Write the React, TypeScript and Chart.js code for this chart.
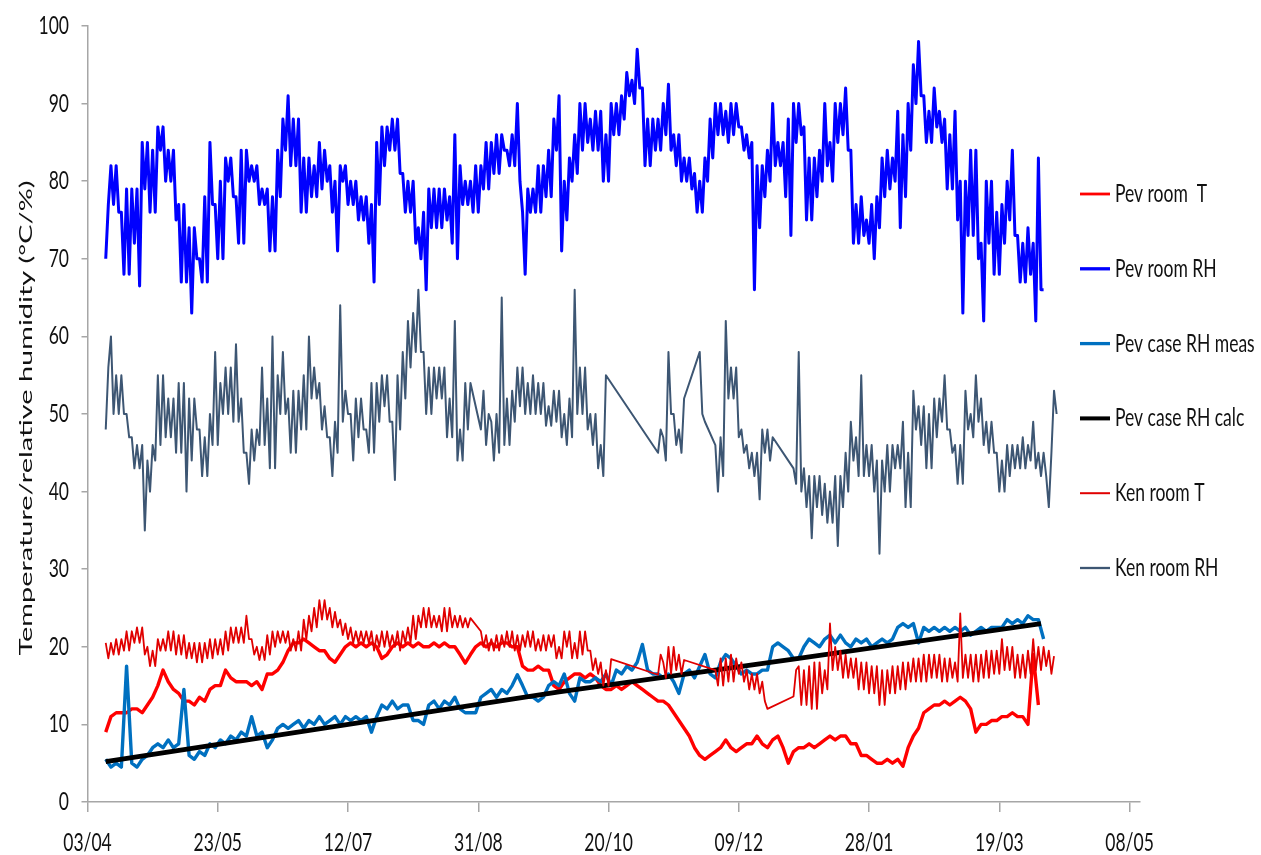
import { useEffect, useRef } from "react";
import { Chart, registerables } from "chart.js";

Chart.register(...registerables);

// ---------- DATA (x = day offset from 03/04) ----------
// 2-day sampling grid (smooth series)
const days = [
  7, 9, 11, 13, 15, 17, 19, 21, 23, 25,
  27, 29, 31, 33, 35, 37, 39, 41, 43, 45,
  47, 49, 51, 53, 55, 57, 59, 61, 63, 65,
  67, 69, 71, 73, 75, 77, 79, 81, 83, 85,
  87, 89, 91, 93, 95, 97, 99, 101, 103, 105,
  107, 109, 111, 113, 115, 117, 119, 121, 123, 125,
  127, 129, 131, 133, 135, 137, 139, 141, 143, 145,
  147, 149, 151, 153, 155, 157, 159, 161, 163, 165,
  167, 169, 171, 173, 175, 177, 179, 181, 183, 185,
  187, 189, 191, 193, 195, 197, 199, 201, 203, 205,
  207, 209, 211, 213, 215, 217, 219, 221, 223, 225,
  227, 229, 231, 233, 235, 237, 239, 241, 243, 245,
  247, 249, 251, 253, 255, 257, 259, 261, 263, 265,
  267, 269, 271, 273, 275, 277, 279, 281, 283, 285,
  287, 289, 291, 293, 295, 297, 299, 301, 303, 305,
  307, 309, 311, 313, 315, 317, 319, 321, 323, 325,
  327, 329, 331, 333, 335, 337, 339, 341, 343, 345,
  347, 349, 351, 353, 355, 357, 359, 361, 363, 365,
  367, 369, 371,
];

// daily sampling grid (noisy series)
const dailyDays = [
  7, 8, 9, 10, 11, 12, 13, 14, 15, 16, 17, 18, 19, 20, 21, 22, 23, 24, 25, 26,
  27, 28, 29, 30, 31, 32, 33, 34, 35, 36, 37, 38, 39, 40, 41, 42, 43, 44, 45, 46,
  47, 48, 49, 50, 51, 52, 53, 54, 55, 56, 57, 58, 59, 60, 61, 62, 63, 64, 65, 66,
  67, 68, 69, 70, 71, 72, 73, 74, 75, 76, 77, 78, 79, 80, 81, 82, 83, 84, 85, 86,
  87, 88, 89, 90, 91, 92, 93, 94, 95, 96, 97, 98, 99, 100, 101, 102, 103, 104, 105, 106,
  107, 108, 109, 110, 111, 112, 113, 114, 115, 116, 117, 118, 119, 120, 121, 122, 123, 124, 125, 126,
  127, 128, 129, 130, 131, 132, 133, 134, 135, 136, 137, 138, 139, 140, 141, 142, 143, 144, 145, 146,
  147, 148, 149, 150, 151, 152, 153, 154, 155, 156, 157, 158, 159, 160, 161, 162, 163, 164, 165, 166,
  167, 168, 169, 170, 171, 172, 173, 174, 175, 176, 177, 178, 179, 180, 181, 182, 183, 184, 185, 186,
  187, 188, 189, 190, 191, 192, 193, 194, 195, 196, 197, 198, 199, 200, 201, 202, 203, 204, 205, 206,
  207, 208, 209, 210, 211, 212, 213, 214, 215, 216, 217, 218, 219, 220, 221, 222, 223, 224, 225, 226,
  227, 228, 229, 230, 231, 232, 233, 234, 235, 236, 237, 238, 239, 240, 241, 242, 243, 244, 245, 246,
  247, 248, 249, 250, 251, 252, 253, 254, 255, 256, 257, 258, 259, 260, 261, 262, 263, 264, 265, 266,
  267, 268, 269, 270, 271, 272, 273, 274, 275, 276, 277, 278, 279, 280, 281, 282, 283, 284, 285, 286,
  287, 288, 289, 290, 291, 292, 293, 294, 295, 296, 297, 298, 299, 300, 301, 302, 303, 304, 305, 306,
  307, 308, 309, 310, 311, 312, 313, 314, 315, 316, 317, 318, 319, 320, 321, 322, 323, 324, 325, 326,
  327, 328, 329, 330, 331, 332, 333, 334, 335, 336, 337, 338, 339, 340, 341, 342, 343, 344, 345, 346,
  347, 348, 349, 350, 351, 352, 353, 354, 355, 356, 357, 358, 359, 360, 361, 362, 363, 364, 365, 366,
  367, 368, 369, 370, 371, 372,
];

const pevRoomT = [
  9, 11, 11.5, 11.5, 11.5, 12, 12, 11.5, 12.5, 13.5,
  15, 17, 15.5, 14.5, 14, 13, 13, 12.5, 13.5, 13,
  14.5, 15, 15, 17, 16, 15.5, 15.5, 15.5, 15, 15.5,
  14.5, 16.5, 16.5, 17, 18, 19.5, 20.5, 20.5, 21, 20.5,
  20, 19.5, 19.5, 18.5, 18, 19, 20, 20.5, 20, 20.5,
  20, 20.5, 20, 18.5, 19, 20, 20.5, 20, 20.5, 20,
  20.5, 20, 20, 20.5, 20, 20.5, 20, 20, 19, 17.9,
  19, 20, 20.5, 20, 20.5, 20, 20.5, 20.5, 20, 20,
  17.5, 17, 17, 17.5, 17, 17, 15, 14.5, 15.5, 16,
  16.5,
  16.5, 16, 16.5, 16, 15, 14.5, 14.5, 15, 14.5, 15,
  15.5, 15, 14.5, 14, 13.5, 13, 13, 12.5, 11.5, 10.5,
  9.5, 8.5, 7, 6, 5.5, 6, 6.5, 7, 8, 7,
  6.5, 7, 7.5, 7.5, 8.5, 7.5, 7, 8, 8.5, 7,
  5, 6.5, 7, 7, 7.5, 7, 7.5, 8, 8.5, 8,
  8.5, 8.5, 7.5, 7.5, 6, 6, 5.5, 5, 5, 5.5,
  5, 5.5, 4.6, 7, 8.5, 9.5, 11.5, 12, 12.5, 12.5,
  13, 12.5, 13, 13.5, 13, 12, 9, 10, 10, 10.5,
  10.5, 11, 11, 11.5, 11, 11, 10, 19, 12.5, null,
  null, null,
];

const pevRoomRH = [
  70, 77, 82, 77, 82, 76, 76, 68, 79, 68, 79, 72, 79, 66.5, 85, 79, 85, 76, 84, 76,
  87, 84, 87, 80, 84, 80, 84, 75, 77, 67, 77, 67, 74, 63, 74, 70, 70, 67, 78, 67,
  85, 77, 77, 70, 80, 70, 83, 80, 83, 78, 78, 72, 84, 72, 84, 80, 82, 80, 82, 77,
  79, 77, 79, 71, 78, 71, 84, 78, 88, 84, 91, 82, 88, 82, 88, 76, 83, 76, 83, 78,
  82, 78, 85, 79, 84, 80, 82, 76, 80, 71, 82, 80, 82, 77, 80, 77, 80, 75, 78, 75,
  78, 72, 77, 67, 85, 77, 87, 82, 87, 84, 88, 84, 88, 81, 81, 76, 80, 76, 80, 72,
  74, 70, 76, 66, 79, 74, 79, 74, 79, 74, 79, 75, 78, 72, 86, 70, 82, 77, 80, 77,
  80, 76, 82, 76, 82, 79, 85, 79, 85, 81, 86, 81, 86, 84, 84, 82, 86, 82, 90, 80,
  76, 68, 79, 76, 79, 76, 82, 76, 82, 78, 84, 78, 88, 84, 91, 71, 80, 75, 83, 80,
  86, 81, 90, 84, 90, 85, 88, 84, 89, 84, 89, 80, 86, 80, 90, 86, 90, 86, 91, 88,
  94, 91, 93, 90, 97, 92, 92, 82, 88, 82, 88, 84, 88, 84, 90, 86, 92.5, 84, 86, 82,
  86, 80, 83, 80, 83, 79, 81, 76, 80, 76, 83, 80, 88, 83, 90, 86, 90, 86, 89, 85,
  90, 86, 90, 87, 87, 84, 86, 83, 85, 66, 82, 74, 82, 78, 84, 80, 90, 82, 85, 82,
  85, 78, 88, 73, 90, 85, 90, 86, 87, 75, 83, 75, 83, 78, 84, 80, 90, 82, 85, 80,
  90, 85, 90, 86, 92, 84, 84, 72, 77, 72, 78, 73, 75, 72, 77, 70, 78, 74, 83, 78,
  84, 79, 83, 80, 89, 74, 86, 78, 90, 84, 95, 90, 98, 91, 91, 85, 89, 85, 92, 87,
  89, 85, 88, 79, 86, 79, 89, 75, 80, 63, 80, 73, 84, 73, 84, 70, 72, 62, 80, 72,
  80, 68, 76, 68, 77, 72, 80, 75, 84, 73, 73, 67, 72, 67, 74, 68, 72, 62, 83, 66,
  66, null, null, null, null, null,
];

const pevCaseRHMeas = [
  5.5, 4.5, 5, 4.5, 17.5, 5, 4.5, 5.5, 6, 7,
  7.5, 7, 8, 7, 7.5, 14.5, 6, 5.5, 6.5, 6,
  7.5, 7, 8, 7.5, 8.5, 8, 9, 8.5, 11, 8.5,
  9, 7, 8, 9.5, 10, 9.5, 10, 10.5, 9.5, 10.5,
  10, 11, 10, 10.5, 11, 10, 11, 10.5, 11, 10.5,
  11, 9, 11, 12.5, 12, 13, 12, 12.5, 12.5, 10.5,
  10.5, 10, 12.5, 13, 12, 13, 12.5, 13.5, 12, 11.5,
  11.5, 11.5, 13.5, 14, 14.5, 13.5, 14.5, 14, 15, 16.4,
  15, 13.5, 13.5, 13, 13.5, 15, 15.5, 15, 16.5, 14,
  13,
  16, 15.5, 15.5, 16, 15.5, 16.5, 15, 17, 16.5, 17.5,
  17, 18, 20.3, 17, 16.5, 16.5, 16, 16.5, 15.5, 14,
  16.5, 17, 16, 17.5, 19, 16.5, 16, 18, 19, 18.5,
  17.5, 16.5, 17, 16.5, 16.5, 17, 17, 20, 20.5, 20,
  19.5, 18.5, 18.5, 20, 21, 20.5, 20, 21, 21.5, 20.5,
  21.5, 20.5, 20, 21, 20.5, 21, 20, 20.5, 21, 20.5,
  21, 22.5, 23, 22.5, 23, 20.5, 22.5, 22, 22.5, 22,
  22.5, 22, 22.5, 22, 22.5, 21.5, 22, 22.5, 22, 22.5,
  22.5, 22.5, 23.5, 23, 23.5, 23, 24, 23.5, 23.5, 21,
  null, null,
];

const calcDays = [7, 102, 181, 271, 366];
const pevCaseRHCalc = [5.2, 10.1, 14.2, 18.4, 23.0];

const kenRoomT = [
  20.5, 18.5, 20.5, 19, 21, 19, 21, 19.5, 22, 19.5, 22, 20.5, 22.5, 20.5, 22.5, 19, 20, 17.5, 19.5, 17.5,
  21, 19.5, 21, 19.5, 22, 19.5, 22, 19, 21.5, 19, 21.5, 18.5, 20.5, 18.5, 20.5, 18, 20.5, 18, 20.5, 18.5,
  21, 18.5, 21, 19, 21, 19, 22, 19.5, 22.5, 20.5, 22.5, 20.5, 22.5, 20.5, 24, 21, 21, 19, 20, 18.3,
  20, 18.3, 21.5, 19, 22, 20, 22, 20.5, 22, 20.5, 22, 19.5, 21, 19.5, 22, 19.5, 23.5, 21, 24, 22,
  25, 22.5, 26, 23.5, 26, 23.5, 25, 22.5, 24.5, 22.5, 23.5, 21.5, 23, 21, 22.5, 20.5, 22, 20.5, 22, 20.5,
  22, 20.5, 22, 19.5, 21.5, 20, 22, 20, 22, 20, 21.5, 20, 22, 19.5, 22, 20.5, 22.5, 20.5, 24, 21,
  24, 22.5, 25, 22.5, 25, 22.5, 24, 22.5, 24, 22, 25, 22, 25, 22.5, 24, 22.5, 24, 22.5, 23.7, 22.5,
  23.7, null, null, null, 22, 20, 21.5, 19.5, 21, 19.5, 21.5, 19.5, 21.5, 20, 22, 20, 22, 19.5, 21.5, 19.5,
  21.5, 20, 22, 20, 22, 19.5, 21, 19.5, 21.5, 19.5, 21.5, 20, 21.5, 18.5, 20, 18.5, 22, 20, 22, 18.5,
  20.5, 18.5, 22, 19, 22, 19.5, 19.5, 17, 18.5, 16.5, 18, 15, 17, 15, 18.4, null, null, null, null, null,
  null, null, null, null, null, null, null, null, null, null, null, null, 16.4, 19, 18, 16, 20, 16.5, 20, 17,
  19, 16.5, 18.3, null, null, null, null, null, null, null, null, null, null, null, 17, 15, 18.5, 15, 18.5, 15.5,
  19, 15.5, 18.5, 16.5, 18, 15.5, 17, 14.5, 16.5, 14.5, 16.5, 14, 15.5, 13, 12, null, null, null, null, null,
  null, null, null, null, 13.6, 17, 17.5, 12.5, 17, 12.5, 17.5, 12, 18, 12, 18, 14, 17, 14.5, 23, 17,
  20, 17, 19.5, 16, 19, 16, 18.5, 16, 18.5, 14.5, 18, 14.5, 18, 14, 17.5, 14, 17.5, 12.5, 17, 12.5,
  17, 14, 17.5, 14, 17.5, 14.5, 18, 14.5, 18, 15.5, 18.5, 15.5, 18.5, 15.5, 19, 15.5, 19, 16, 19, 16,
  19, 15.5, 18.5, 15.5, 18.5, 16, 18, 15.5, 24.3, 16, 19, 16, 19, 15.5, 19, 15.5, 19, 16, 19.5, 16,
  19.5, 16.5, 19.5, 16.5, 21, 17, 20, 17, 20, 16, 19, 16, 19, 16, 19.5, 16.5, 21, 17, 20, 17,
  20, 17.5, 19.5, 16.5, 18.8, null,
];

const kenRoomRH = [
  48, 56, 60, 50, 55, 50, 55, 50, 50, 47, 47, 43, 46, 43, 46, 35, 44, 40, 46, 44,
  55, 46, 55, 47, 52, 47, 52, 45, 54, 45, 54, 40, 52, 44, 52, 48, 48, 42, 47, 42,
  50, 46, 58, 46, 54, 50, 56, 50, 56, 49, 59, 49, 52, 45, 45, 41, 48, 44, 48, 46,
  56, 46, 52, 43, 60, 43, 55, 50, 58, 50, 52, 45, 53, 45, 53, 48, 55, 48, 60, 52,
  56, 52, 54, 48, 51, 47, 47, 42, 49, 45, 64, 49, 53, 50, 50, 44, 52, 47, 52, 48,
  48, 45, 54, 45, 54, 49, 55, 51, 55, 49, 49, 41.5, 55, 48, 58, 52, 62, 56, 63, 58,
  66, 58, 58, 50, 56, 50, 56, 52, 56, 52, 56, 47, 52, 47, 62, 44, 48, 44, 54, 48,
  54, null, null, null, 48, 53, 46, 50, 49, 44, 50, 45, 65, 46, 52, 46, 53, 49, 56, 51,
  56, 50, 54, 50, 55, 50, 54, 50, 54, 48.5, 51, 48.5, 53, 49, 53, 47, 50, 46, 52, 47,
  66, 50, 56, 50, 56, 48, 50, 46, 50, 43, 46, 42, 55, null, null, null, null, null, null, null,
  null, null, null, null, null, null, null, null, null, null, null, null, 45, 48, 47, 44, 58, 50, 50, 46,
  48, 45, 52, null, null, null, null, null, 58, 50, 49, null, null, null, 46, 40, 47, 42, 62, 52,
  56, 52, 56, 47, 48, 45, 46, 43, 45, 42, 45, 39, 48, 45, 48, 44, 47, null, null, null,
  null, null, null, null, 43, 41, 58, 40, 43, 38, 42, 34, 42, 38, 42, 37, 41, 36, 40, 36,
  42, 33, 42, 38, 45, 40, 49, 44, 47, 42, 55, 42, 46, 42, 46, 40, 44, 32, 44, 40,
  46, 40, 46, 43, 46, 43, 49, 38, 45, 38, 53, 48, 51, 46, 51, 43, 50, 43, 52, 47,
  52, 49, 55, 48, 48, 45, 46, 41, 46, 41, 53, 48, 50, 47, 55, 49, 52, 46, 49, 45,
  49, 45, 45, 40, 44, 40, 46, 42, 46, 43, 46, 43, 47, 43, 46, 44, 49, 43, 45, 42,
  45, 42, 38, 45, 53, 50,
];

const xTickDays = [0, 50, 100, 150, 200, 250, 300, 350, 400];
const xTickLabels = ["03/04", "23/05", "12/07", "31/08", "20/10", "09/12", "28/01", "19/03", "08/05"];
const yTickValues = [0, 10, 20, 30, 40, 50, 60, 70, 80, 90, 100];
const yAxisTitle = "Temperature/relative humidity (°C/%)";
const seriesNames = ["Pev room  T", "Pev room RH", "Pev case RH meas", "Pev case RH calc", "Ken room T", "Ken room RH"];

// ---------- STYLE ----------
const seriesColors = ["#FF0000", "#0000FF", "#0070C0", "#000000", "#E00000", "#3D5673"];
const lineWidths = [3.4, 3, 3.4, 4.8, 1.8, 2];
const legendWidths = [2.8, 3.3, 3.3, 4, 2, 2.3];
const AXIS = "#A6A6A6";
const TEXT_SCALE = 0.7;
const FONT = '25px Lato, "Open Sans", sans-serif';

function drawText(ctx: CanvasRenderingContext2D, text: string, x: number, y: number, align: CanvasTextAlign, sx: number) {
  ctx.save();
  ctx.translate(x, y);
  ctx.scale(sx, 1);
  ctx.textAlign = align;
  ctx.textBaseline = "middle";
  ctx.fillText(text, 0, 0);
  ctx.restore();
}

const textPlugin = {
  id: "refText",
  afterDraw(chart: any) {
    const ctx: CanvasRenderingContext2D = chart.ctx;
    const xs = chart.scales.x;
    const ys = chart.scales.y;
    ctx.save();
    ctx.fillStyle = "#111111";
    ctx.font = FONT;
    yTickValues.forEach((v) => drawText(ctx, String(v), 69, ys.getPixelForValue(v), "right", TEXT_SCALE));
    xTickDays.forEach((d, i) => drawText(ctx, xTickLabels[i], xs.getPixelForValue(d), 843, "center", TEXT_SCALE));

    ctx.save();
    ctx.translate(26, 418);
    ctx.rotate(-Math.PI / 2);
    const w = ctx.measureText(yAxisTitle).width;
    ctx.scale(475 / w, TEXT_SCALE);
    ctx.textAlign = "center";
    ctx.textBaseline = "middle";
    ctx.fillText(yAxisTitle, 0, 0);
    ctx.restore();

    seriesNames.forEach((name, i) => {
      const y = 194 + i * 74.8;
      ctx.strokeStyle = seriesColors[i];
      ctx.lineWidth = legendWidths[i];
      ctx.beginPath();
      ctx.moveTo(1080, y);
      ctx.lineTo(1110, y);
      ctx.stroke();
      drawText(ctx, name, 1115, y, "left", TEXT_SCALE);
    });
    ctx.restore();
  },
};

function makeDataset(i: number, xs: number[], ys: (number | null)[]) {
  return {
    label: seriesNames[i],
    data: xs.map((x, k) => ({ x, y: ys[k] })),
    borderColor: seriesColors[i],
    backgroundColor: seriesColors[i],
    borderWidth: lineWidths[i],
    pointRadius: 0,
    pointHoverRadius: 0,
    fill: false,
    tension: 0,
    spanGaps: true,
    borderJoinStyle: "round" as const,
    order: 6 - i,
  };
}

export default function App() {
  const ref = useRef<HTMLCanvasElement>(null);
  useEffect(() => {
    if (!ref.current) return;
    const chart = new Chart(ref.current, {
      type: "line",
      data: {
        datasets: [
          makeDataset(0, days, pevRoomT),
          makeDataset(1, dailyDays, pevRoomRH),
          makeDataset(2, days, pevCaseRHMeas),
          makeDataset(3, calcDays, pevCaseRHCalc),
          makeDataset(4, dailyDays, kenRoomT),
          makeDataset(5, dailyDays, kenRoomRH),
        ] as any,
      },
      options: {
        responsive: true,
        maintainAspectRatio: false,
        animation: false,
        events: [],
        layout: { padding: { left: 81.5, top: 26, right: 121, bottom: 43 } },
        plugins: { legend: { display: false }, tooltip: { enabled: false }, title: { display: false } },
        scales: {
          x: {
            type: "linear",
            min: 0,
            max: 404,
            ticks: { display: false, stepSize: 50, includeBounds: false },
            grid: { drawOnChartArea: false, drawTicks: true, tickLength: 10, color: AXIS, lineWidth: 1.5 },
            border: { display: true, color: AXIS, width: 1.5 },
          },
          y: {
            type: "linear",
            min: 0,
            max: 100,
            ticks: { display: false, stepSize: 10 },
            grid: { drawOnChartArea: false, drawTicks: true, tickLength: 6, color: AXIS, lineWidth: 1.5 },
            border: { display: true, color: AXIS, width: 1.5 },
          },
        },
      } as any,
      plugins: [textPlugin],
    });
    return () => chart.destroy();
  }, []);
  return (
    <div style={{ position: "fixed", left: 0, top: 0, width: 1261, height: 855, background: "#ffffff" }}>
      <canvas ref={ref} />
    </div>
  );
}
